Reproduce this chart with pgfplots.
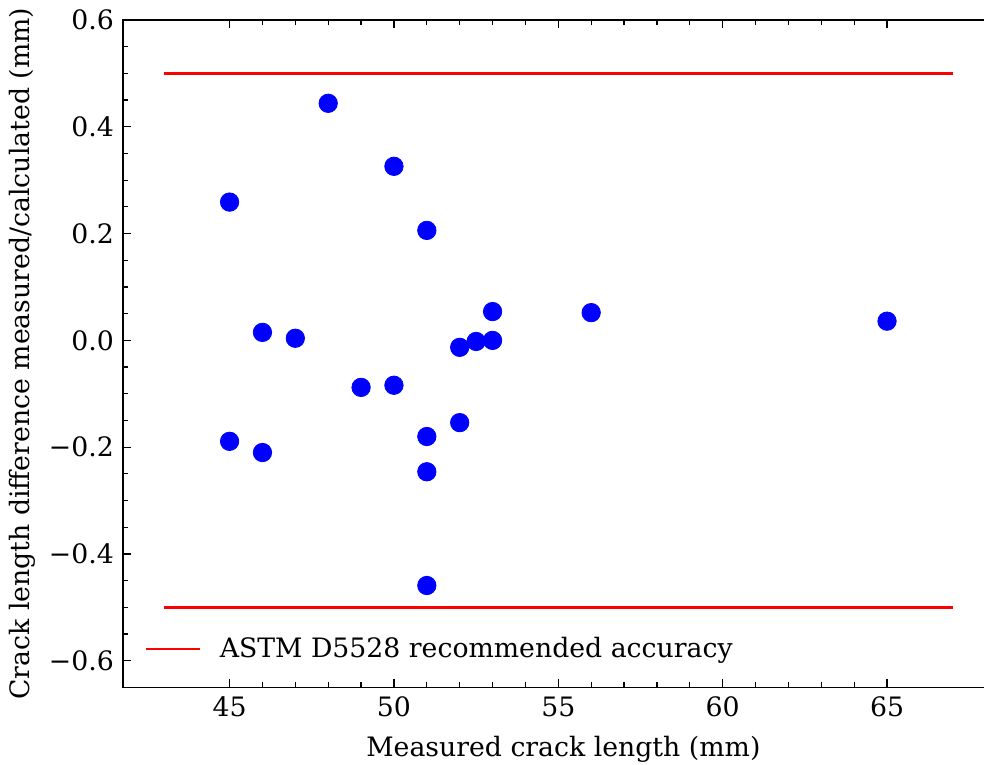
\documentclass[border=0pt]{standalone}
\usepackage{pgfplots}
\pgfplotsset{compat=1.18}
\usepackage{fontspec}
\setmainfont{DejaVu Serif}

\begin{document}
\fontsize{13.35pt}{16pt}\selectfont
\begin{tikzpicture}
\begin{axis}[
  name=ax,
  scale only axis,
  width=440pt, height=333.5pt,
  xmin=41.76, xmax=68.55,
  ymin=-0.65, ymax=0.6,
  xtick={45,50,55,60,65},
  minor x tick num=4,
  ytick={-0.6,-0.4,-0.2,0,0.2,0.4,0.6},
  yticklabels={−0.6,−0.4,−0.2,0.0,0.2,0.4,0.6},
  minor y tick num=3,
  tick align=inside,
  xtick pos=both, ytick pos=both,
  major tick length=4pt, minor tick length=2.5pt,
  every tick/.style={black, line width=0.6pt},
  axis line style={line width=0.7pt},
  /pgf/number format/assume math mode=true,
  tick label style={font=\fontsize{13.35pt}{16pt}\selectfont},
  label style={font=\fontsize{13.35pt}{16pt}\selectfont},
  xlabel={Measured crack length (mm)},
  ylabel={Crack length difference measured/calculated (mm)},
  xlabel style={yshift=-0.5pt},
  ylabel style={yshift=-2.5pt},
  legend style={at={(0.0,0.0)}, anchor=south west, draw=none, fill=none,
    font=\fontsize{13.35pt}{16pt}\selectfont, xshift=7.5pt, yshift=9pt},
  legend cell align=left,
  legend image code/.code={\draw[#1] (0pt,0pt) -- (27pt,0pt); \path[draw=none] (0pt,0pt) -- (35pt,0pt);},
]
\addplot[red, line width=1.25pt] coordinates {(43,0.5) (67,0.5)};
\addlegendentry{ASTM D5528 recommended accuracy}
\addplot[red, line width=1.25pt, forget plot] coordinates {(43,-0.5) (67,-0.5)};
\addplot[only marks, mark=*, mark size=4.6pt, color=blue, fill=blue, forget plot] coordinates {
  (45,0.259) (45,-0.189)
  (46,0.015) (46,-0.210)
  (47,0.004)
  (48,0.444)
  (49,-0.088)
  (50,0.326) (50,-0.084)
  (51,0.206) (51,-0.180) (51,-0.246) (51,-0.459)
  (52,-0.013) (52,-0.154)
  (52.5,-0.002)
  (53,0.054) (53,0.000)
  (56,0.052)
  (65,0.036)
};
\end{axis}
\pgfresetboundingbox
\path ([shift={(-61.5pt,-38.5pt)}]ax.south west) rectangle ([shift={(430.15pt,343.5pt)}]ax.south west);
\end{tikzpicture}
\end{document}
